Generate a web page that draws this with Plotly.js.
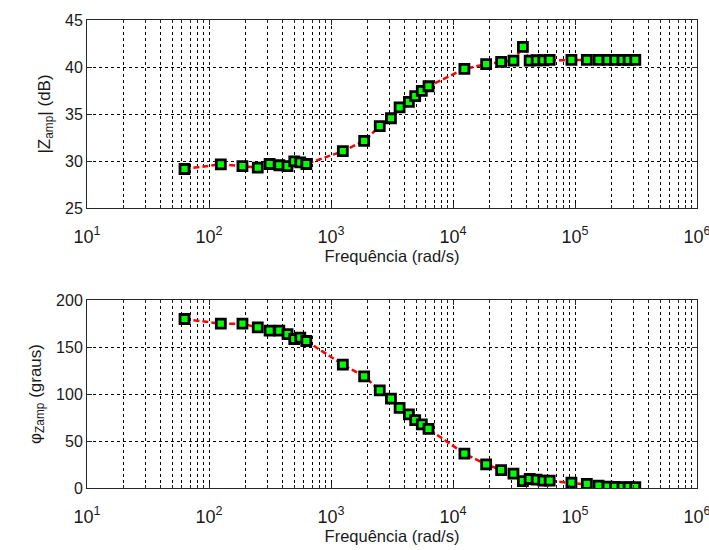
<!DOCTYPE html>
<html>
<head>
<meta charset="utf-8">
<script src="https://cdn.plot.ly/plotly-3.0.1.min.js"></script>
<style>html,body{margin:0;padding:0;background:#fff;}#chart{width:709px;height:550px;}</style>
</head>
<body>
<div id="chart"></div>
<script>
// Frequencies (rad/s)
const freq = [63, 125, 188, 251, 314, 377, 440, 500, 560, 628,
  1250, 1870, 2510, 3100, 3650, 4350, 4900, 5550, 6300,
  12400, 18700, 24800, 31300, 37400, 42500, 48500, 55000, 62000,
  93500, 125000, 156000, 185000, 213000, 245000, 275000, 312000];
// |Zamp| (dB)
const magDb = [29.15, 29.65, 29.45, 29.3, 29.68, 29.55, 29.45, 29.95, 29.85, 29.68,
  31.05, 32.15, 33.7, 34.55, 35.7, 36.3, 36.9, 37.45, 37.95,
  39.8, 40.3, 40.55, 40.68, 42.15, 40.68, 40.72, 40.72, 40.75,
  40.75, 40.75, 40.75, 40.75, 40.75, 40.75, 40.75, 40.75];
// phase (graus)
const phaseDeg = [179.8, 174.8, 174.8, 170.9, 167.4, 167.4, 163.8, 158.5, 159.9, 156.4,
  131.2, 118.8, 103.9, 95.0, 85.2, 78.4, 72.3, 67.7, 62.8,
  36.5, 25.2, 19.1, 15.2, 7.4, 9.6, 8.9, 7.9, 7.9,
  5.7, 4.3, 2.5, 1.4, 1.1, 1.0, 1.0, 1.0];
const xExponents = [1, 2, 3, 4, 5, 6];
const xTickVals = xExponents.map(e => Math.pow(10, e));
const xTickText = xExponents.map(e => '10<sup>' + e + '</sup>');
const magTicks = [25, 30, 35, 40, 45];
const phaseTicks = [0, 50, 100, 150, 200];

const FONT = 'Liberation Sans, Arial, sans-serif';
const TXT = '#1a1a1a';
const lineStyle = {color: '#ff0000', width: 2.5, dash: '6px,3px'};
const markerStyle = {symbol: 'square', size: 9, color: '#00ff00', line: {color: '#000000', width: 2.8}};

const traces = [
  {x: freq, y: magDb, xaxis: 'x', yaxis: 'y', mode: 'lines+markers', line: lineStyle, marker: markerStyle, showlegend: false},
  {x: freq, y: phaseDeg, xaxis: 'x2', yaxis: 'y2', mode: 'lines+markers', line: lineStyle, marker: markerStyle, showlegend: false}
];

function xAxis(anchor) {
  return {
    type: 'log', range: [1, 6], domain: [87/709, 697/709], anchor: anchor,
    tickvals: xTickVals, ticktext: xTickText, ticks: 'inside', ticklen: 5, tickcolor: '#262626',
    ticklabelstandoff: 12, ticklabeloverflow: 'allow',
    showline: true, mirror: 'ticks', linecolor: '#262626', linewidth: 1,
    showgrid: true, gridcolor: '#000000', gridwidth: 1, griddash: '3px,3px',
    minor: {dtick: 'D1', ticks: 'inside', ticklen: 3, tickcolor: '#262626', showgrid: true, gridcolor: '#000000', gridwidth: 1, griddash: '3px,3px'},
    tickfont: {family: FONT, size: 18, color: TXT},
    title: {text: 'Frequência (rad/s)', font: {family: FONT, size: 16.5, color: TXT}, standoff: 0},
    zeroline: false, automargin: false
  };
}
function yAxis(anchor, domain, range, ticks, title) {
  return {
    range: range, domain: domain, anchor: anchor, tickvals: ticks,
    ticks: 'inside', ticklen: 5, tickcolor: '#262626',
    showline: true, mirror: 'ticks', linecolor: '#262626', linewidth: 1,
    showgrid: true, gridcolor: '#000000', gridwidth: 1, griddash: '3px,3px',
    tickfont: {family: FONT, size: 16, color: TXT},
    title: {text: title, font: {family: FONT, size: 17, color: TXT}, standoff: 10},
    zeroline: false, automargin: false
  };
}

const layout = {
  width: 709, height: 550,
  margin: {l: 0, r: 0, t: 0, b: 0},
  paper_bgcolor: '#ffffff', plot_bgcolor: '#ffffff',
  showlegend: false,
  xaxis: xAxis('y'),
  yaxis: yAxis('x', [1 - 208/550, 1 - 20/550], [25, 45], magTicks, '|Z<sub>amp</sub>| (dB)'),
  xaxis2: xAxis('y2'),
  yaxis2: yAxis('x2', [1 - 488/550, 1 - 300/550], [0, 200], phaseTicks, 'φ<sub>Zamp</sub> (graus)')
};

Plotly.newPlot('chart', traces, layout, {staticPlot: true, displayModeBar: false});
</script>
</body>
</html>
